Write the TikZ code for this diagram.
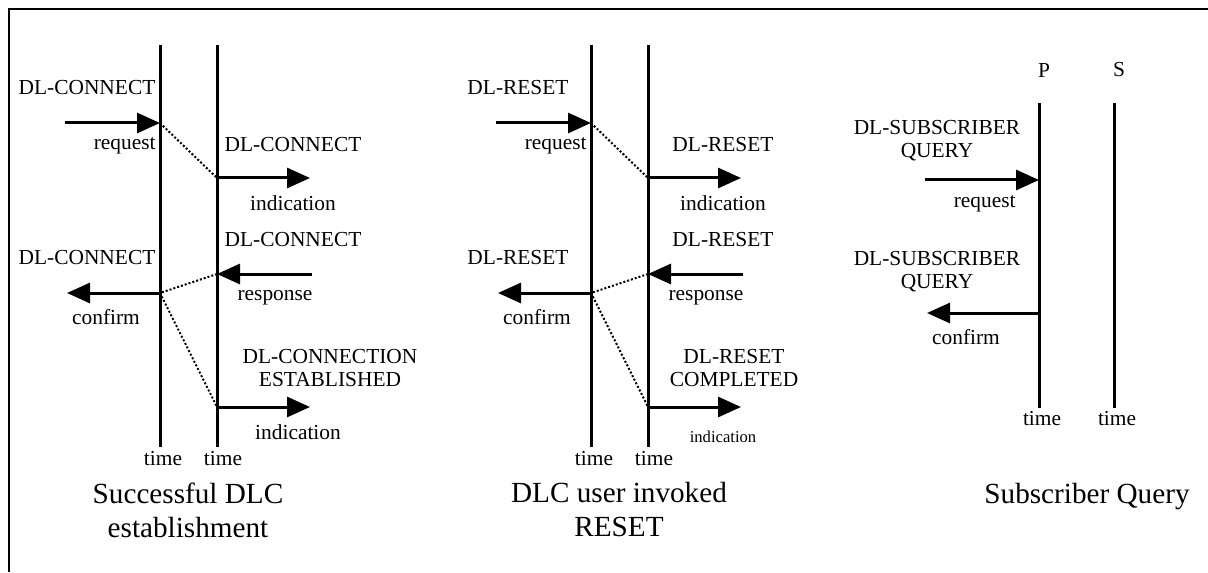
\documentclass[tikz,border=0pt]{standalone}
\usepackage{fontspec}
\setmainfont{Liberation Serif}
\usetikzlibrary{arrows.meta,positioning}

\begin{document}
\begin{tikzpicture}
      [x=0.5pt, y=-0.5pt,
      time line/.style={line width=1.5pt},
      msg arrow/.style={line width=1.5pt, -{Triangle[length=11.5pt,width=10pt]}},
      relay/.style={line width=1pt, dash pattern=on 1pt off 1pt},
      prim label/.style={font=\fontsize{10.7}{11.5}\selectfont, align=center, inner sep=0pt},
      small label/.style={font=\fontsize{8.3}{10}\selectfont, inner sep=0pt},
      title label/.style={font=\fontsize{14.6}{17}\selectfont, align=center, inner sep=0pt},
      ]
    \useasboundingbox (0,0) rectangle (1208,572);
    % frame
    \draw[line width=1pt] (9,572) -- (9,9) -- (1208,9);

    % successful DLC establishment
    \coordinate (c l top) at (160,45);  \coordinate (c l bot) at (160,447);
    \coordinate (c r top) at (217,45);  \coordinate (c r bot) at (217,447);
    \coordinate (c req)  at (160,123);  \coordinate (c req from)  at (65,123);
    \coordinate (c ind)  at (217,178);  \coordinate (c ind to)    at (310,178);
    \coordinate (c resp) at (217,274);  \coordinate (c resp from) at (312,274);
    \coordinate (c conf) at (160,293);  \coordinate (c conf to)   at (67,293);
    \coordinate (c est)  at (217,407);  \coordinate (c est to)    at (310,407);
    \draw[time line] (c l top) -- (c l bot);
    \draw[time line] (c r top) -- (c r bot);
    \draw[msg arrow] (c req from) -- (c req);
    \draw[msg arrow] (c ind) -- (c ind to);
    \draw[msg arrow] (c resp from) -- (c resp);
    \draw[msg arrow] (c conf) -- (c conf to);
    \draw[msg arrow] (c est) -- (c est to);
    \draw[relay] (c req) -- (c ind);
    \draw[relay] (c resp) -- (c conf) -- (c est);
    \node[prim label] (c req name) at (87,88) {DL-CONNECT};
    \node[prim label, anchor=east] (c req kind) at (156,146) {request};
    \node[prim label] (c ind name) at (293,145) {DL-CONNECT};
    \node[prim label] (c ind kind) at (293,203) {indication};
    \node[prim label] (c resp name) at (293,240) {DL-CONNECT};
    \node[prim label] (c resp kind) at (275,298) {response};
    \node[prim label] (c conf name) at (87,258) {DL-CONNECT};
    \node[prim label] (c conf kind) at (106,317) {confirm};
    \node[prim label] (c est name) at (330,368) {DL-CONNECTION\\ESTABLISHED};
    \node[prim label] (c est kind) at (298,432) {indication};
    \node[prim label] (c l time) at (163,459) {time};
    \node[prim label] (c r time) at (223,459) {time};
    \node[title label] (c title) at (188,510) {Successful DLC\\establishment};

    % DLC user invoked RESET
    \begin{scope}[shift={(431,0)}]
    \coordinate (r l top) at (160,45);  \coordinate (r l bot) at (160,447);
    \coordinate (r r top) at (217,45);  \coordinate (r r bot) at (217,447);
    \coordinate (r req)  at (160,123);  \coordinate (r req from)  at (65,123);
    \coordinate (r ind)  at (217,178);  \coordinate (r ind to)    at (310,178);
    \coordinate (r resp) at (217,274);  \coordinate (r resp from) at (312,274);
    \coordinate (r conf) at (160,293);  \coordinate (r conf to)   at (67,293);
    \coordinate (r done) at (217,407);  \coordinate (r done to)   at (310,407);
    \draw[time line] (r l top) -- (r l bot);
    \draw[time line] (r r top) -- (r r bot);
    \draw[msg arrow] (r req from) -- (r req);
    \draw[msg arrow] (r ind) -- (r ind to);
    \draw[msg arrow] (r resp from) -- (r resp);
    \draw[msg arrow] (r conf) -- (r conf to);
    \draw[msg arrow] (r done) -- (r done to);
    \draw[relay] (r req) -- (r ind);
    \draw[relay] (r resp) -- (r conf) -- (r done);
    \node[prim label] (r req name) at (87,88) {DL-RESET};
    \node[prim label, anchor=east] (r req kind) at (156,146) {request};
    \node[prim label] (r ind name) at (292,145) {DL-RESET};
    \node[prim label] (r ind kind) at (292,203) {indication};
    \node[prim label] (r resp name) at (292,240) {DL-RESET};
    \node[prim label] (r resp kind) at (275,298) {response};
    \node[prim label] (r conf name) at (87,258) {DL-RESET};
    \node[prim label] (r conf kind) at (106,317) {confirm};
    \node[prim label] (r done name) at (303,368) {DL-RESET\\COMPLETED};
    \node[small label] (r done kind) at (292,437) {indication};
    \node[prim label] (r l time) at (163,459) {time};
    \node[prim label] (r r time) at (223,459) {time};
    \node[title label] (r title) at (188,510) {DLC user invoked\\RESET};
    \end{scope}

    % Subscriber Query
    \coordinate (q p top) at (1039,103);  \coordinate (q p bot) at (1039,408);
    \coordinate (q s top) at (1114,103);  \coordinate (q s bot) at (1114,408);
    \coordinate (q req)  at (1039,180);  \coordinate (q req from) at (925,180);
    \coordinate (q conf) at (1039,313);  \coordinate (q conf to)  at (927,313);
    \draw[time line] (q p top) -- (q p bot);
    \draw[time line] (q s top) -- (q s bot);
    \draw[msg arrow] (q req from) -- (q req);
    \draw[msg arrow] (q conf) -- (q conf to);
    \node[prim label] (q p) at (1044,70) {P};
    \node[prim label] (q s) at (1119,70) {S};
    \node[prim label] (q req name) at (937,141) {DL-SUBSCRIBER\\QUERY};
    \node[prim label, anchor=east] (q req kind) at (1016,204) {request};
    \node[prim label] (q conf name) at (937,272) {DL-SUBSCRIBER\\QUERY};
    \node[prim label] (q conf kind) at (966,337) {confirm};
    \node[prim label] (q p time) at (1042,419) {time};
    \node[prim label] (q s time) at (1117,419) {time};
    \node[title label] (q title) at (1087,497) {Subscriber Query};
\end{tikzpicture}
\end{document}
